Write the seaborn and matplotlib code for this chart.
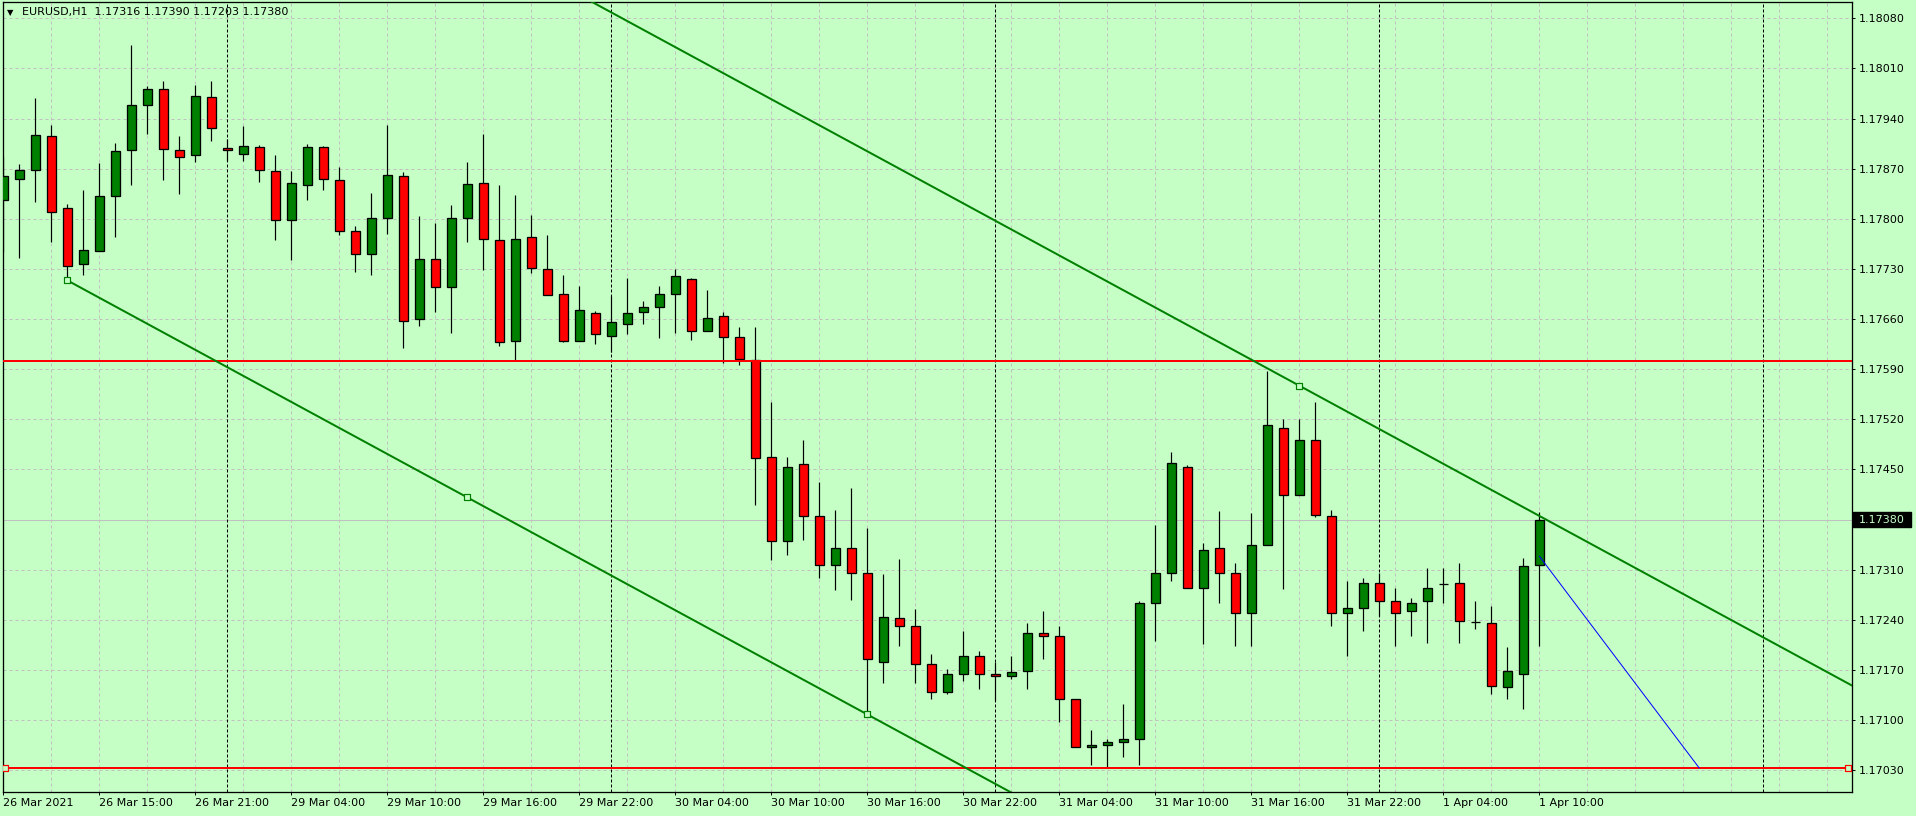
import numpy as np
import pandas as pd
import matplotlib
matplotlib.use("Agg")
import matplotlib.pyplot as plt
import matplotlib.transforms as mtransforms
from matplotlib.patches import Rectangle
import seaborn as sns

# ---------------- data ----------------
title_symbol = "EURUSD,H1"
title_ohlc = ["1.17316", "1.17390", "1.17203", "1.17380"]

opens = [1.17826, 1.17856, 1.17868, 1.17915, 1.17815, 1.17737, 1.17755, 1.17832, 1.17896, 1.17959,
         1.17981, 1.17896, 1.17889, 1.17970, 1.17899, 1.17890, 1.17900, 1.17867, 1.17798, 1.17847,
         1.17900, 1.17854, 1.17783, 1.17751, 1.17801, 1.17860, 1.17660, 1.17744, 1.17705, 1.17801,
         1.17850, 1.17770, 1.17629, 1.17774, 1.17730, 1.17695, 1.17629, 1.17668, 1.17637, 1.17653,
         1.17670, 1.17677, 1.17695, 1.17716, 1.17644, 1.17664, 1.17635, 1.17603, 1.17467, 1.17350,
         1.17457, 1.17385, 1.17317, 1.17341, 1.17305, 1.17181, 1.17242, 1.17232, 1.17179, 1.17140,
         1.17165, 1.17190, 1.17165, 1.17162, 1.17168, 1.17222, 1.17217, 1.17129, 1.17063, 1.17066,
         1.17070, 1.17074, 1.17264, 1.17306, 1.17454, 1.17285, 1.17341, 1.17306, 1.17249, 1.17345,
         1.17508, 1.17415, 1.17491, 1.17385, 1.17250, 1.17257, 1.17292, 1.17267, 1.17253, 1.17266,
         1.17290, 1.17292, 1.17237, 1.17235, 1.17147, 1.17165, 1.17316]
highs = [1.17886, 1.17877, 1.17968, 1.17931, 1.17821, 1.17840, 1.17878, 1.17906, 1.18043, 1.17986,
         1.17993, 1.17916, 1.17987, 1.17993, 1.17911, 1.17929, 1.17903, 1.17889, 1.17867, 1.17904,
         1.17902, 1.17872, 1.17790, 1.17836, 1.17931, 1.17866, 1.17804, 1.17794, 1.17819, 1.17880,
         1.17919, 1.17847, 1.17833, 1.17805, 1.17777, 1.17721, 1.17706, 1.17671, 1.17692, 1.17718,
         1.17685, 1.17706, 1.17730, 1.17718, 1.17700, 1.17670, 1.17649, 1.17649, 1.17544, 1.17467,
         1.17491, 1.17432, 1.17394, 1.17424, 1.17369, 1.17304, 1.17325, 1.17255, 1.17193, 1.17172,
         1.17225, 1.17197, 1.17181, 1.17189, 1.17235, 1.17252, 1.17231, 1.17129, 1.17086, 1.17074,
         1.17122, 1.17266, 1.17372, 1.17474, 1.17456, 1.17347, 1.17392, 1.17319, 1.17389, 1.17588,
         1.17521, 1.17521, 1.17544, 1.17393, 1.17295, 1.17298, 1.17306, 1.17285, 1.17271, 1.17313,
         1.17313, 1.17320, 1.17267, 1.17260, 1.17202, 1.17327, 1.17390]
lows = [1.17753, 1.17745, 1.17823, 1.17767, 1.17714, 1.17721, 1.17755, 1.17774, 1.17847, 1.17919,
        1.17854, 1.17834, 1.17879, 1.17909, 1.17881, 1.17881, 1.17851, 1.17771, 1.17743, 1.17826,
        1.17840, 1.17777, 1.17726, 1.17722, 1.17779, 1.17620, 1.17650, 1.17670, 1.17641, 1.17767,
        1.17729, 1.17622, 1.17601, 1.17724, 1.17693, 1.17628, 1.17629, 1.17625, 1.17614, 1.17639,
        1.17653, 1.17634, 1.17640, 1.17631, 1.17644, 1.17598, 1.17596, 1.17401, 1.17324, 1.17330,
        1.17351, 1.17299, 1.17282, 1.17268, 1.17108, 1.17152, 1.17204, 1.17152, 1.17130, 1.17137,
        1.17154, 1.17144, 1.17127, 1.17158, 1.17143, 1.17186, 1.17098, 1.17063, 1.17038, 1.17034,
        1.17049, 1.17038, 1.17211, 1.17294, 1.17284, 1.17207, 1.17263, 1.17204, 1.17204, 1.17345,
        1.17283, 1.17415, 1.17383, 1.17232, 1.17189, 1.17224, 1.17245, 1.17204, 1.17217, 1.17208,
        1.17264, 1.17208, 1.17227, 1.17137, 1.17130, 1.17116, 1.17203]
closes = [1.17860, 1.17868, 1.17917, 1.17810, 1.17734, 1.17756, 1.17832, 1.17895, 1.17959, 1.17981,
          1.17897, 1.17886, 1.17971, 1.17927, 1.17896, 1.17901, 1.17868, 1.17798, 1.17850, 1.17900,
          1.17855, 1.17783, 1.17751, 1.17801, 1.17861, 1.17658, 1.17744, 1.17705, 1.17801, 1.17848,
          1.17772, 1.17628, 1.17772, 1.17731, 1.17694, 1.17630, 1.17672, 1.17639, 1.17656, 1.17668,
          1.17677, 1.17695, 1.17720, 1.17643, 1.17661, 1.17635, 1.17604, 1.17466, 1.17350, 1.17454,
          1.17385, 1.17316, 1.17341, 1.17305, 1.17186, 1.17244, 1.17232, 1.17178, 1.17139, 1.17165,
          1.17190, 1.17164, 1.17161, 1.17167, 1.17222, 1.17217, 1.17130, 1.17063, 1.17066, 1.17069,
          1.17074, 1.17264, 1.17306, 1.17459, 1.17285, 1.17338, 1.17306, 1.17249, 1.17344, 1.17512,
          1.17414, 1.17491, 1.17386, 1.17250, 1.17256, 1.17292, 1.17267, 1.17249, 1.17264, 1.17285,
          1.17290, 1.17238, 1.17237, 1.17148, 1.17169, 1.17315, 1.17380]

time_labels = ["26 Mar 2021", "26 Mar 15:00", "26 Mar 21:00", "29 Mar 04:00", "29 Mar 10:00",
               "29 Mar 16:00", "29 Mar 22:00", "30 Mar 04:00", "30 Mar 10:00", "30 Mar 16:00",
               "30 Mar 22:00", "31 Mar 04:00", "31 Mar 10:00", "31 Mar 16:00", "31 Mar 22:00",
               "1 Apr 04:00", "1 Apr 10:00"]
time_label_bars = [0, 6, 12, 18, 24, 30, 36, 42, 48, 54, 60, 66, 72, 78, 84, 90, 96]

price_tick_labels = ["1.17030", "1.17100", "1.17170", "1.17240", "1.17310", "1.17380",
                     "1.17450", "1.17520", "1.17590", "1.17660", "1.17730", "1.17800",
                     "1.17870", "1.17940", "1.18010", "1.18080"]

day_separator_bars = [14, 38, 62, 86, 110]
vertical_grid_bars = [3, 6, 9, 12, 15, 18, 21, 24, 27, 30, 33, 36, 39, 42, 45, 48, 51, 54, 57,
                      60, 63, 66, 69, 72, 75, 78, 81, 84, 87, 90, 93, 96, 99, 102, 105, 108,
                      111, 114]

resistance_level = 1.17602
current_price = 1.17380
support_bars = [0.1, 115.3]
support_prices = [1.17033, 1.17033]
channel_bars = [4, 54, 81]
channel_prices = [1.17714, 1.17108, 1.17567]
projection_bars = [96, 106]
projection_prices = [1.17329, 1.17033]

# ---------------- style ----------------
BG = "#C6FFC6"
GRID = "#C0C0C0"
BULL = "#008000"
BEAR = "#FF0000"
PX = 0.72  # one pixel in points at dpi 100

sns.set_theme(style="white")
plt.rcParams["font.family"] = ["DejaVu Sans"]
plt.rcParams["axes.facecolor"] = BG
plt.rcParams["figure.facecolor"] = BG

W, H = 1916, 816
fig = plt.figure(figsize=(W / 100, H / 100), dpi=100)
ax_left, ax_right, ax_top, ax_bottom = 2.7, 1852.3, 2.3, 792.3
ax = fig.add_axes([ax_left / W, (H - ax_bottom) / H, (ax_right - ax_left) / W,
                   (ax_bottom - ax_top) / H])
ax.set_facecolor(BG)

XMIN, XMAX = -0.04, 115.56
YMIN, YMAX = 1.169993, 1.181023
ax.set_xlim(XMIN, XMAX)
ax.set_ylim(YMIN, YMAX)

df = pd.DataFrame({"bar": np.arange(len(opens)), "open": opens, "high": highs,
                   "low": lows, "close": closes})

# grid
price_ticks = [float(s) for s in price_tick_labels]
for p in price_ticks:
    ax.axhline(p, color=GRID, lw=PX, ls=(0, (3, 3)), zorder=0.5)
for b in vertical_grid_bars:
    ax.axvline(b, color=GRID, lw=PX, ls=(0, (3, 3)), zorder=0.5)

# current price line
ax.axhline(current_price, color=GRID, lw=PX, zorder=0.6)

# day separators
for b in day_separator_bars:
    ax.axvline(b, color="black", lw=PX, ls=(0, (3, 2)), zorder=0.7)

# candles
body_w = 9.0 / 16.0
ax.vlines(df["bar"], df["low"], df["high"], color="black", lw=PX * 1.2, zorder=2)
bottoms = np.minimum(df["open"], df["close"])
heights = np.abs(df["close"] - df["open"])
colors = [BULL if c > o else (BEAR if c < o else "black") for o, c in zip(df["open"], df["close"])]
ax.bar(df["bar"], heights, bottom=bottoms, width=body_w, color=colors,
       edgecolor="black", linewidth=PX * 1.3, zorder=3)

# resistance horizontal line
ax.axhline(resistance_level, color=BEAR, lw=2 * PX, zorder=5)

# support trend line with anchor squares
sns.lineplot(x=support_bars, y=support_prices, ax=ax, color=BEAR, linewidth=2 * PX,
             legend=False, zorder=5, sort=False)
ax.scatter(support_bars, support_prices, marker="s", s=16, facecolor=BG, edgecolor=BEAR,
           linewidths=1.2 * PX, zorder=6)

# equidistant channel
slope = (channel_prices[1] - channel_prices[0]) / (channel_bars[1] - channel_bars[0])
lx = [channel_bars[0], XMAX]
ly = [channel_prices[0], channel_prices[0] + slope * (XMAX - channel_bars[0])]
offset = channel_prices[2] - (channel_prices[0] + slope * (channel_bars[2] - channel_bars[0]))
uy = [v + offset for v in ly]
sns.lineplot(x=lx, y=ly, ax=ax, color=BULL, linewidth=2 * PX, legend=False, zorder=5, sort=False)
sns.lineplot(x=lx, y=uy, ax=ax, color=BULL, linewidth=2 * PX, legend=False, zorder=5, sort=False)
mid_x = (channel_bars[0] + channel_bars[1]) / 2
mid_y = (channel_prices[0] + channel_prices[1]) / 2
ax.scatter([channel_bars[0], mid_x, channel_bars[1], channel_bars[2]],
           [channel_prices[0], mid_y, channel_prices[1], channel_prices[2]],
           marker="s", s=16, facecolor=BG, edgecolor=BULL, linewidths=1.2 * PX, zorder=6)

# projection line
sns.lineplot(x=projection_bars, y=projection_prices, ax=ax, color="#0000FF", linewidth=PX,
             legend=False, zorder=5, sort=False)

# axes / ticks
for s in ax.spines.values():
    s.set_color("black")
    s.set_linewidth(PX * 1.3)
    s.set_visible(True)

ax.set_xticks(time_label_bars)
ax.set_xticklabels(time_labels, ha="left")
ax.yaxis.tick_right()
ax.set_yticks(price_ticks)
ax.set_yticklabels(price_tick_labels)
ax.tick_params(axis="x", direction="out", length=3 * PX, width=PX, color="black",
               labelsize=8, pad=2.0, labelcolor="black", bottom=True)
ax.tick_params(axis="y", direction="out", length=3 * PX, width=PX, color="black",
               labelsize=8, pad=2.6, labelcolor="black", right=True, left=False)
ax.set_xlabel("")
ax.set_ylabel("")
ax.grid(False)

# current price box on the price scale
trans = mtransforms.blended_transform_factory(ax.transAxes, ax.transData)
box_h = 15 / 0.71619 * 1e-5
ax.add_patch(Rectangle((1.0005, current_price - box_h / 2), 58 / (ax_right - ax_left), box_h,
                       transform=trans, facecolor="black", edgecolor="black",
                       clip_on=False, zorder=10))
ax.text(1.0 + 6.5 / (ax_right - ax_left), current_price, f"{current_price:.5f}", transform=trans,
        ha="left", va="center", fontsize=8, color=BG, zorder=11, clip_on=False)

# title
fig.text(7 / W, 1 - 12.5 / H, "\u25BC", fontsize=6, ha="left", va="center", color="black")
fig.text(21.5 / W, 1 - 12.3 / H, title_symbol + "  " + " ".join(title_ohlc), fontsize=8,
         ha="left", va="center", color="black")

fig.savefig("out.png", dpi=100, facecolor=BG)
